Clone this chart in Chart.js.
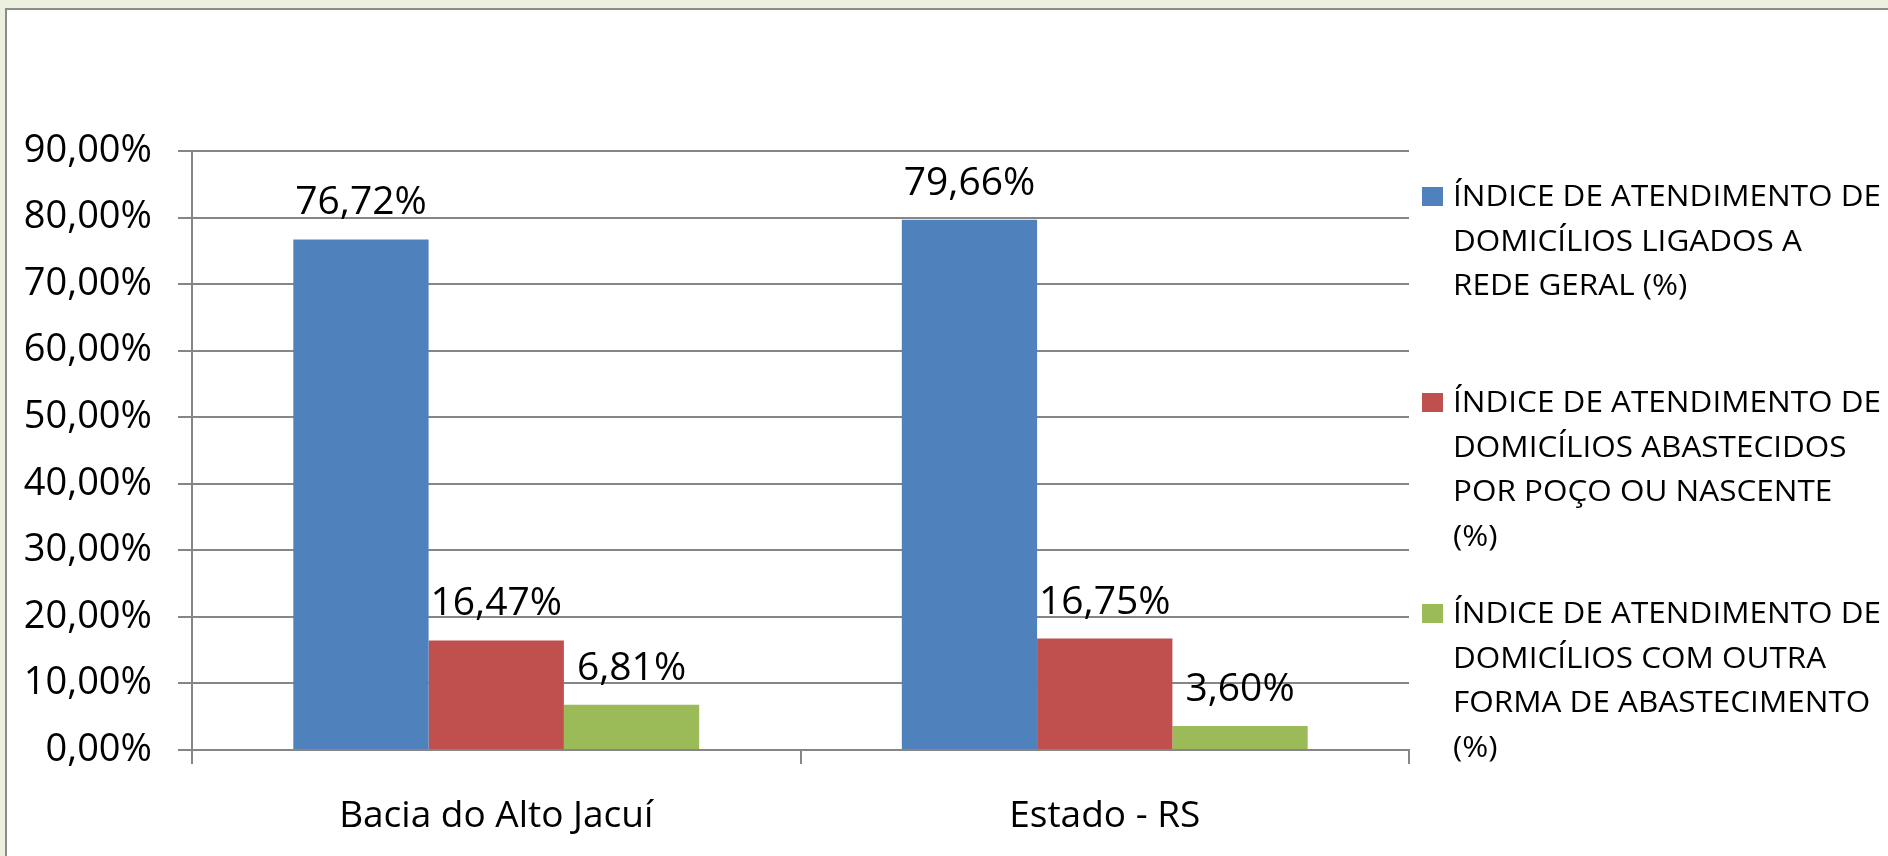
<!DOCTYPE html>
<html>
<head>
<meta charset="utf-8">
<script src="https://cdn.jsdelivr.net/npm/chart.js@4.4.1/dist/chart.umd.min.js"></script>
<style>
html, body { margin: 0; padding: 0; background: #EBF1DE; overflow: hidden; }
#frame { position: absolute; left: 5px; top: 8px; width: 1900px; height: 870px; background: #fff; border: 2px solid #8C8C8C; box-sizing: border-box; }
#wrap { position: absolute; left: 0; top: 0; width: 1888px; height: 856px; }
</style>
</head>
<body>
<div id="frame"></div>
<div id="wrap"><canvas id="barChart" width="1888" height="856"></canvas></div>
<script>
const categories = ['Bacia do Alto Jacuí', 'Estado - RS'];
const redeGeral = [76.72, 79.66];
const pocoNascente = [16.47, 16.75];
const outraForma = [6.81, 3.60];
const yMax = 90;
const yStep = 10;
const seriesColors = ['#4F81BD', '#C0504D', '#9BBB59'];
const legendLines = [
    ['ÍNDICE DE ATENDIMENTO DE', 'DOMICÍLIOS LIGADOS A', 'REDE GERAL (%)'],
    ['ÍNDICE DE ATENDIMENTO DE', 'DOMICÍLIOS ABASTECIDOS', 'POR POÇO OU NASCENTE', '(%)'],
    ['ÍNDICE DE ATENDIMENTO DE', 'DOMICÍLIOS COM OUTRA', 'FORMA DE ABASTECIMENTO', '(%)']
];

const FONT = '"Open Sans"';
const pct = v => v.toFixed(2).replace('.', ',') + '%';

// value labels above each bar
const barLabels = {
    id: 'barLabels',
    afterDatasetsDraw(chart) {
        const ctx = chart.ctx;
        ctx.save();
        ctx.font = '39px ' + FONT;
        ctx.fillStyle = '#000';
        ctx.textAlign = 'center';
        ctx.textBaseline = 'alphabetic';
        chart.data.datasets.forEach((ds, i) => {
            chart.getDatasetMeta(i).data.forEach((bar, j) => {
                ctx.fillText(pct(ds.data[j]), bar.x, bar.y - 25);
            });
        });
        ctx.restore();
    }
};

// legend on the right, wrapped text like the original
const sideLegend = {
    id: 'sideLegend',
    afterDraw(chart) {
        const ctx = chart.ctx;
        const x0 = chart.chartArea.right + 13;
        const textX = chart.chartArea.right + 44;
        const firstBase = [206, 412, 623];
        const lineGap = 44.5;
        ctx.save();
        ctx.font = '29px ' + FONT;
        const sx = 428 / ctx.measureText(legendLines[0][0]).width;
        chart.data.datasets.forEach((ds, i) => {
            const b = firstBase[i];
            ctx.fillStyle = ds.backgroundColor;
            ctx.fillRect(x0, b - 19, 21, 19);
            ctx.fillStyle = '#000';
            legendLines[i].forEach((line, k) => {
                ctx.save();
                ctx.translate(textX, b + k * lineGap);
                ctx.scale(sx, 1);
                ctx.fillText(line, 0, 0);
                ctx.restore();
            });
        });
        ctx.restore();
    }
};

const bar = document.getElementById('barChart');

new Chart(bar, {
    type: 'bar',
    data: {
        labels: categories,
        datasets: [
            { label: legendLines[0].join(' '), data: redeGeral, backgroundColor: seriesColors[0] },
            { label: legendLines[1].join(' '), data: pocoNascente, backgroundColor: seriesColors[1] },
            { label: legendLines[2].join(' '), data: outraForma, backgroundColor: seriesColors[2] }
        ]
    },
    options: {
        responsive: false,
        animation: false,
        categoryPercentage: 0.667,
        barPercentage: 1,
        layout: {
            padding: { top: 151, right: 479, left: 0, bottom: 0 }
        },
        plugins: {
            legend: { display: false },
            tooltip: { enabled: false }
        },
        scales: {
            y: {
                min: 0,
                max: yMax,
                afterFit(scale) { scale.width = 192; },
                ticks: {
                    stepSize: yStep,
                    color: '#000',
                    padding: 26,
                    font: { family: FONT, size: 38 },
                    callback: v => pct(v)
                },
                grid: {
                    color: '#868686',
                    lineWidth: 2,
                    tickLength: 14
                },
                border: { color: '#868686', width: 2 }
            },
            x: {
                afterFit(scale) { scale.height = 106; },
                ticks: {
                    color: '#000',
                    padding: 30,
                    font: { family: FONT, size: 37 }
                },
                grid: {
                    drawOnChartArea: false,
                    color: '#868686',
                    lineWidth: 2,
                    tickLength: 14
                },
                border: { color: '#868686', width: 2 }
            }
        }
    },
    plugins: [barLabels, sideLegend]
});
</script>
</body>
</html>
